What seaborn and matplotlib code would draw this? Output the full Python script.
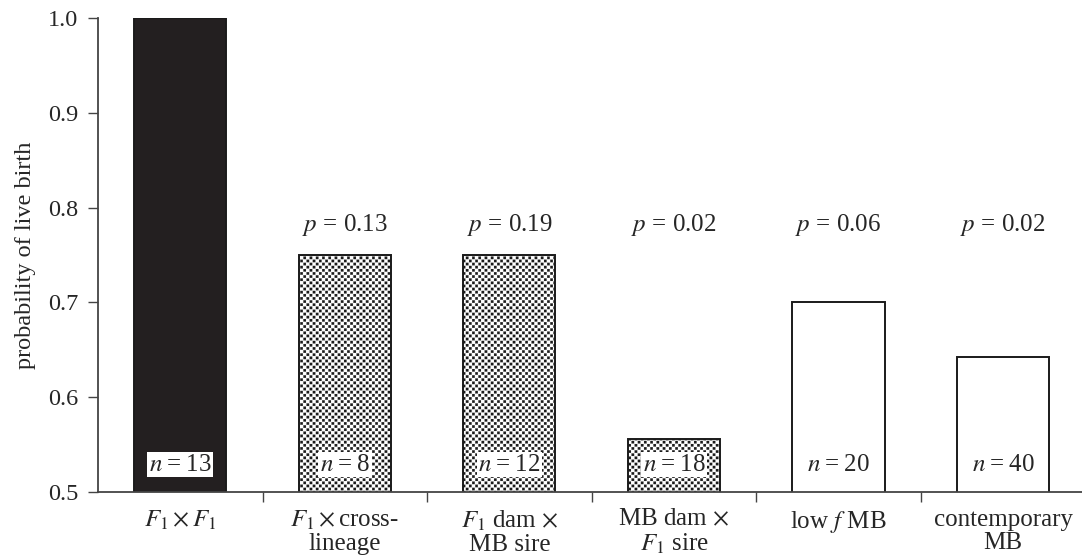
import numpy as np
import seaborn as sns
import matplotlib.pyplot as plt
import matplotlib.hatch as mhatch
from matplotlib.path import Path
import pandas as pd

# chart data
categories = [
    "$F_1 \\times F_1$",
    "$F_1 \\times$cross-\nlineage",
    "$F_1$ dam $\\times$\nMB sire",
    "MB dam $\\times$\n$F_1$ sire",
    "low $f$ MB",
    "contemporary\nMB",
]
probabilities = [1.0, 0.75, 0.75, 0.556, 0.70, 0.642]
n_labels = ["13", "8", "12", "18", "20", "40"]
p_labels = [None, "0.13", "0.19", "0.02", "0.06", "0.02"]
bar_styles = ["solid", "hatch", "hatch", "hatch", "open", "open"]


class CheckerHatch(mhatch.HatchPatternBase):
    """Small filled squares in a checkerboard, used for the '.' hatch."""

    def __init__(self, hatch, density):
        self.cells = 32 if "." in hatch else 0
        self.num_vertices = (self.cells ** 2 // 2) * 5

    def set_vertices_and_codes(self, vertices, codes):
        step = 1.0 / self.cells
        size = step * 0.82
        off = (step - size) / 2
        k = 0
        for row in range(self.cells):
            for col in range(self.cells):
                if (row + col) % 2:
                    continue
                x0, y0 = col * step + off, row * step + off
                vertices[k:k + 5] = [(x0, y0), (x0 + size, y0),
                                     (x0 + size, y0 + size),
                                     (x0, y0 + size), (x0, y0)]
                codes[k] = Path.MOVETO
                codes[k + 1:k + 4] = Path.LINETO
                codes[k + 4] = Path.CLOSEPOLY
                k += 5


mhatch._hatch_types = [t for t in mhatch._hatch_types
                       if t is not mhatch.SmallFilledCircles] + [CheckerHatch]

df = pd.DataFrame({"group": categories, "prob": probabilities})

sns.set_style("ticks")
plt.rcParams["font.family"] = ["Liberation Serif", "DejaVu Serif"]
plt.rcParams["mathtext.fontset"] = "stix"
plt.rcParams["hatch.linewidth"] = 0.1
plt.rcParams["hatch.color"] = "black"

fig = plt.figure(figsize=(10.82, 5.57), dpi=100)
ax = fig.add_axes([0.0906, 0.1167, 0.9094, 0.851])

sns.barplot(data=df, x="group", y="prob", color="white", width=0.56,
            edgecolor="#1a1a1a", linewidth=1.4, ax=ax)

for patch, style in zip(ax.patches, bar_styles):
    if style == "solid":
        patch.set_facecolor("#231f20")
    elif style == "hatch":
        patch.set_facecolor("white")
        patch.set_hatch(".")

ax.set_ylim(0.5, 1.0)
ax.set_xlim(-0.5, 5.48)
ax.set_yticks([0.5, 0.6, 0.7, 0.8, 0.9, 1.0])
ax.set_yticklabels(["0.5", "0.6", "0.7", "0.8", "0.9", "1.0"])
ax.set_xticks(range(len(categories)))
ax.set_xticklabels(categories, fontsize=18, linespacing=1.05)
ax.set_xticks([i + 0.5 for i in range(len(categories) - 1)], minor=True)
ax.tick_params(axis="x", which="major", length=0, pad=12)
ax.tick_params(axis="x", which="minor", length=7, width=1, color="#444444",
               direction="out")
ax.tick_params(axis="y", length=7, width=1, color="#444444", labelsize=17.5,
               pad=7)
ax.set_xlabel("")
ax.set_ylabel("probability of live birth", fontsize=17.5, labelpad=9)

for side in ["top", "right"]:
    ax.spines[side].set_visible(False)
for side in ["left", "bottom"]:
    ax.spines[side].set_color("#444444")
    ax.spines[side].set_linewidth(1.3)

# annotations
for i, (n, p) in enumerate(zip(n_labels, p_labels)):
    ax.text(i, 0.529, f"$n$\u2009=\u2009{n}", ha="center", va="center",
            fontsize=18,
            bbox=dict(facecolor="white", edgecolor="none", pad=1.2))
    if p is not None:
        ax.text(i, 0.782, f"$p$ = {p}", ha="center", va="center",
                fontsize=18)

plt.savefig("out.png", dpi=100)
